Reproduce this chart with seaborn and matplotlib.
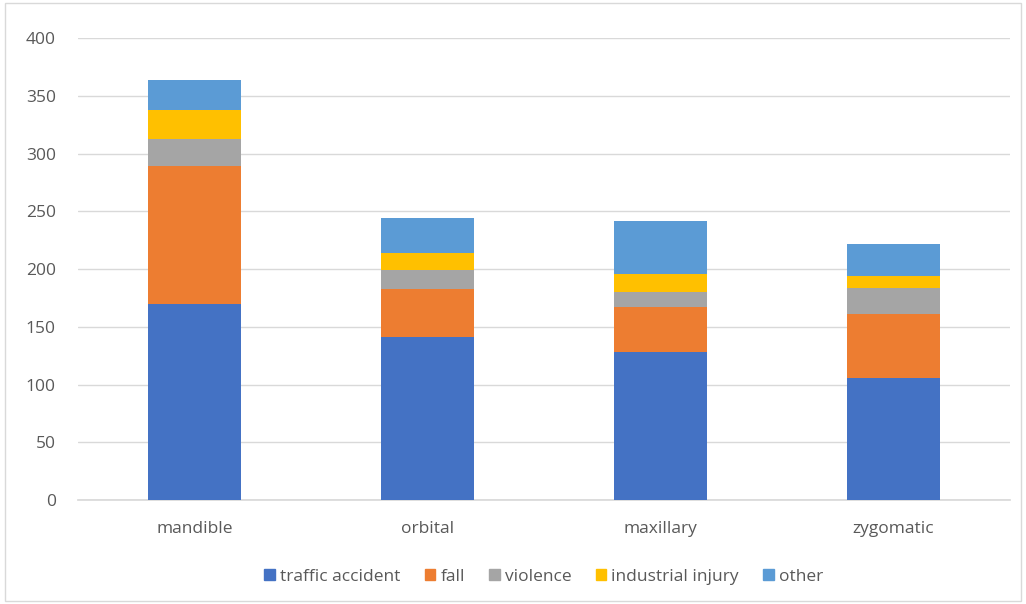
import matplotlib
matplotlib.use("Agg")
import matplotlib.pyplot as plt
import matplotlib.patches as mpatches
import seaborn as sns
import pandas as pd
import numpy as np

categories = ["mandible", "orbital", "maxillary", "zygomatic"]
series_names = ["traffic accident", "fall", "violence", "industrial injury", "other"]
traffic_accident = [170, 141, 128, 106]
fall = [119, 42, 39, 55]
violence = [24, 16, 13, 23]
industrial_injury = [25, 15, 16, 10]
other = [26, 30, 46, 28]
colors = ["#4472C4", "#ED7D31", "#A5A5A5", "#FFC000", "#5B9BD5"]
yticks = [0, 50, 100, 150, 200, 250, 300, 350, 400]

sns.set_theme(style="white")
plt.rcParams['font.family'] = ['Open Sans', 'DejaVu Sans']

fig = plt.figure(figsize=(10.26, 6.04), dpi=100)
ax = fig.add_axes([0.076, 0.172, 0.908, 0.765])

values = [traffic_accident, fall, violence, industrial_injury, other]
bottom = np.zeros(len(categories))
for name, vals, col in zip(series_names, values, colors):
    df = pd.DataFrame({"cat": categories, "val": vals})
    sns.barplot(data=df, x="cat", y="val", color=col, width=0.4, saturation=1,
                bottom=bottom, ax=ax, label=name, zorder=3, linewidth=0)
    bottom = bottom + np.array(vals)

ax.set_xlim(-0.5, 3.5)
ax.set_ylim(0, 400)
ax.set_yticks(yticks)
ax.yaxis.grid(True, color="#D9D9D9", linewidth=1, zorder=0)
ax.set_xlabel("")
ax.set_ylabel("")
for s in ["top", "right", "left"]:
    ax.spines[s].set_visible(False)
ax.spines["bottom"].set_color("#D9D9D9")
ax.tick_params(axis="both", length=0, labelsize=12.5, colors="#595959")
ax.tick_params(axis="x", pad=15)
ax.tick_params(axis="y", pad=16)

handles = [mpatches.Patch(color=c, label=n) for n, c in zip(series_names, colors)]
ax.legend(handles=handles, loc="upper center", bbox_to_anchor=(0.5, -0.115),
          ncol=5, frameon=False, fontsize=12.5, handlelength=0.6, handleheight=0.6,
          handletextpad=0.3, columnspacing=1.4, labelcolor="#595959")

fig.patches.append(mpatches.Rectangle((0.005, 0.005), 0.99, 0.99, transform=fig.transFigure,
                                      fill=False, edgecolor="#D9D9D9", linewidth=1))
fig.savefig("out.png", dpi=100)
